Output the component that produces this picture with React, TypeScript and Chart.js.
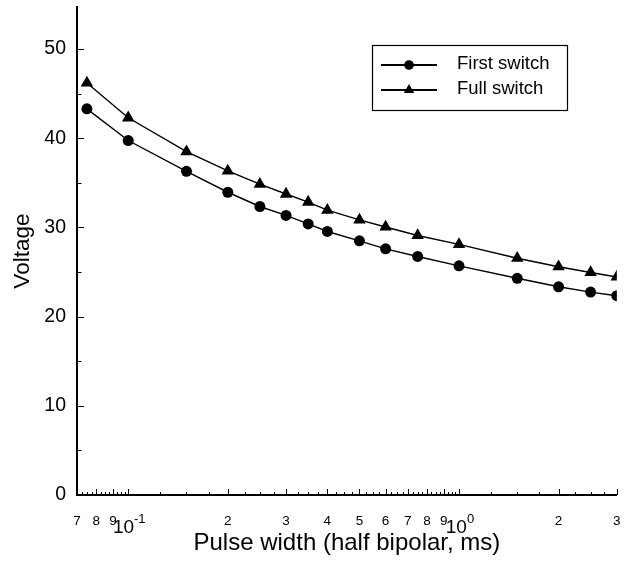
import React, { useEffect, useRef } from 'react';
import { Chart, registerables } from 'chart.js';

Chart.register(...registerables);

// ---- data ----
const pulseWidth = [0.075, 0.1, 0.15, 0.2, 0.25, 0.3, 0.35, 0.4, 0.5, 0.6, 0.75, 1.0, 1.5, 2.0, 2.5, 3.0];
const firstSwitch = [43.3, 39.75, 36.3, 33.95, 32.35, 31.35, 30.4, 29.55, 28.5, 27.6, 26.75, 25.7, 24.3, 23.35, 22.75, 22.35];
const fullSwitch = [46.2, 42.3, 38.5, 36.35, 34.85, 33.75, 32.85, 31.95, 30.85, 30.05, 29.1, 28.1, 26.55, 25.6, 24.95, 24.45];
const seriesLabels = ['First switch', 'Full switch'];

const xLabeledTicks = [0.07, 0.08, 0.09, 0.2, 0.3, 0.4, 0.5, 0.6, 0.7, 0.8, 0.9, 2, 3];
const xLabelTexts = ['7', '8', '9', '2', '3', '4', '5', '6', '7', '8', '9', '2', '3'];
const xDecadeTicks = [0.1, 1];
const xDecadeExponents = ['-1', '0'];
const xMinorTicks = [
  0.0725, 0.075, 0.0775, 0.0825, 0.085, 0.0875, 0.0925, 0.095, 0.0975,
  0.125, 0.15, 0.175, 0.225, 0.25, 0.275, 0.325, 0.35, 0.375, 0.425, 0.45, 0.475,
  0.525, 0.55, 0.575, 0.625, 0.65, 0.675, 0.725, 0.75, 0.775, 0.825, 0.85, 0.875, 0.925, 0.95, 0.975,
  1.25, 1.5, 1.75, 2.25, 2.5, 2.75,
];
const yMajorTicks = [0, 10, 20, 30, 40, 50];
const yMinorTicks = [5, 15, 25, 35, 45];

const xMin = 0.07;
const xMax = 3;
const yMin = 0;
const yMax = 54.7;

const FONT = "'Liberation Sans', Arial, Helvetica, sans-serif";

const inwardTicks = {
  id: 'inwardTicks',
  afterDraw(chart: any) {
    const { ctx, chartArea, scales } = chart;
    const xs = scales.x;
    const ys = scales.y;
    ctx.save();
    ctx.strokeStyle = '#000';
    ctx.lineWidth = 1;
    ctx.beginPath();
    for (const t of xs.ticks) {
      const px = Math.round(xs.getPixelForValue(t.value)) + 0.5;
      const tall = t.label || xDecadeTicks.includes(t.value);
      const len = tall ? 6 : 3;
      ctx.moveTo(px, chartArea.bottom);
      ctx.lineTo(px, chartArea.bottom - len);
    }
    for (const t of ys.ticks) {
      const py = Math.round(ys.getPixelForValue(t.value)) + 0.5;
      const len = t.label ? 7 : 4.5;
      ctx.moveTo(chartArea.left, py);
      ctx.lineTo(chartArea.left + len, py);
    }
    ctx.stroke();

    // decade labels: "10" with raised exponent
    ctx.fillStyle = '#000';
    ctx.textBaseline = 'alphabetic';
    ctx.textAlign = 'left';
    xDecadeTicks.forEach((v, i) => {
      const px = xs.getPixelForValue(v);
      ctx.font = `19px ${FONT}`;
      const wBase = ctx.measureText('10').width;
      ctx.font = `13px ${FONT}`;
      const wExp = ctx.measureText(xDecadeExponents[i]).width;
      const start = px - (wBase + wExp) / 2 + 1;
      const baseY = chartArea.bottom + 38;
      ctx.font = `19px ${FONT}`;
      ctx.fillText('10', start, baseY);
      ctx.font = `13px ${FONT}`;
      ctx.fillText(xDecadeExponents[i], start + wBase, baseY - 10);
    });
    ctx.restore();
  },
};

function drawMarker(ctx: CanvasRenderingContext2D, style: string, x: number, y: number, r: number) {
  ctx.beginPath();
  if (style === 'triangle') {
    let rad = 0;
    ctx.moveTo(x + Math.sin(rad) * r, y - Math.cos(rad) * r);
    rad += (2 * Math.PI) / 3;
    ctx.lineTo(x + Math.sin(rad) * r, y - Math.cos(rad) * r);
    rad += (2 * Math.PI) / 3;
    ctx.lineTo(x + Math.sin(rad) * r, y - Math.cos(rad) * r);
    ctx.closePath();
  } else {
    ctx.arc(x, y, r, 0, Math.PI * 2);
  }
  ctx.fill();
}

const boxLegend = {
  id: 'boxLegend',
  afterDraw(chart: any, _args: any, opts: any) {
    const { ctx } = chart;
    const { left, top, width, height, firstRow, rowGap, lineStart, lineLen, textX } = opts;
    ctx.save();
    ctx.strokeStyle = '#000';
    ctx.fillStyle = '#000';
    ctx.lineWidth = 1.2;
    ctx.strokeRect(left + 0.5, top + 0.5, width, height);
    chart.data.datasets.forEach((ds: any, i: number) => {
      const y = top + firstRow + i * rowGap;
      ctx.lineWidth = 2;
      ctx.beginPath();
      ctx.moveTo(left + lineStart, y);
      ctx.lineTo(left + lineStart + lineLen, y);
      ctx.stroke();
      drawMarker(ctx, ds.pointStyle, left + lineStart + lineLen / 2, y, ds.pointStyle === 'triangle' ? 6 : 4.8);
      ctx.font = `18.5px ${FONT}`;
      ctx.textBaseline = 'middle';
      ctx.textAlign = 'left';
      ctx.fillText(ds.label, left + textX, y - 0.8);
    });
    ctx.restore();
  },
};

export default function App() {
  const ref = useRef<HTMLCanvasElement>(null);

  useEffect(() => {
    if (!ref.current) return;
    const labelMap = new Map<number, string>();
    xLabeledTicks.forEach((v, i) => labelMap.set(v, xLabelTexts[i]));
    const xAll = [...xLabeledTicks, ...xDecadeTicks, ...xMinorTicks].sort((a, b) => a - b);
    const yAll = [...yMajorTicks, ...yMinorTicks].sort((a, b) => a - b);

    const chart = new Chart(ref.current, {
      type: 'line',
      data: {
        datasets: [
          {
            label: seriesLabels[0],
            data: pulseWidth.map((x, i) => ({ x, y: firstSwitch[i] })),
            borderColor: '#000',
            backgroundColor: '#000',
            borderWidth: 1.4,
            pointStyle: 'circle',
            pointRadius: 5.5,
            pointBorderWidth: 0,
            pointBackgroundColor: '#000',
            tension: 0,
          },
          {
            label: seriesLabels[1],
            data: pulseWidth.map((x, i) => ({ x, y: fullSwitch[i] })),
            borderColor: '#000',
            backgroundColor: '#000',
            borderWidth: 1.4,
            pointStyle: 'triangle',
            pointRadius: 7.2,
            pointBorderWidth: 0,
            pointBackgroundColor: '#000',
            tension: 0,
          },
        ],
      },
      options: {
        animation: false,
        responsive: false,
        devicePixelRatio: 1,
        layout: { padding: { left: 0, right: 7, top: 7, bottom: 0 } },
        plugins: {
          legend: { display: false },
          tooltip: { enabled: false },
          boxLegend: {
            left: 372,
            top: 45,
            width: 195,
            height: 65,
            firstRow: 20,
            rowGap: 25,
            lineStart: 9,
            lineLen: 56,
            textX: 85,
          },
        } as any,
        scales: {
          x: {
            type: 'logarithmic',
            min: xMin,
            max: xMax,
            grid: { display: false, drawTicks: false },
            border: { display: true, color: '#000', width: 2 },
            afterBuildTicks: (scale: any) => {
              scale.ticks = xAll.map((v) => ({ value: v }));
            },
            afterFit: (scale: any) => {
              scale.height = 70;
              scale.paddingLeft = 0;
              scale.paddingRight = 0;
            },
            ticks: {
              autoSkip: false,
              maxRotation: 0,
              minRotation: 0,
              padding: 18,
              color: '#000',
              callback: (value: any) => labelMap.get(Number(value)) ?? '',
              font: { family: FONT, size: 13.5 },
            },
            title: {
              display: true,
              text: 'Pulse width (half bipolar, ms)',
              color: '#000',
              font: { family: FONT, size: 24 },
              padding: { top: 0, bottom: 7 },
            },
          },
          y: {
            type: 'linear',
            min: yMin,
            max: yMax,
            grid: { display: false, drawTicks: false },
            border: { display: true, color: '#000', width: 2 },
            afterBuildTicks: (scale: any) => {
              scale.ticks = yAll.map((v) => ({ value: v }));
            },
            afterFit: (scale: any) => {
              scale.width = 77;
              scale.paddingTop = 0;
              scale.paddingBottom = 0;
            },
            ticks: {
              autoSkip: false,
              padding: 11,
              color: '#000',
              font: { family: FONT, size: 19.5 },
              callback: (value: any) => (yMajorTicks.includes(Number(value)) ? String(value) : ''),
            },
            title: {
              display: true,
              text: 'Voltage',
              color: '#000',
              font: { family: FONT, size: 22.5 },
              padding: { top: 9, bottom: 0 },
            },
          },
        },
      },
      plugins: [inwardTicks, boxLegend],
    } as any);

    return () => chart.destroy();
  }, []);

  return (
    <canvas
      ref={ref}
      width={624}
      height={565}
      style={{ position: 'absolute', left: 0, top: 0, display: 'block' }}
    />
  );
}
